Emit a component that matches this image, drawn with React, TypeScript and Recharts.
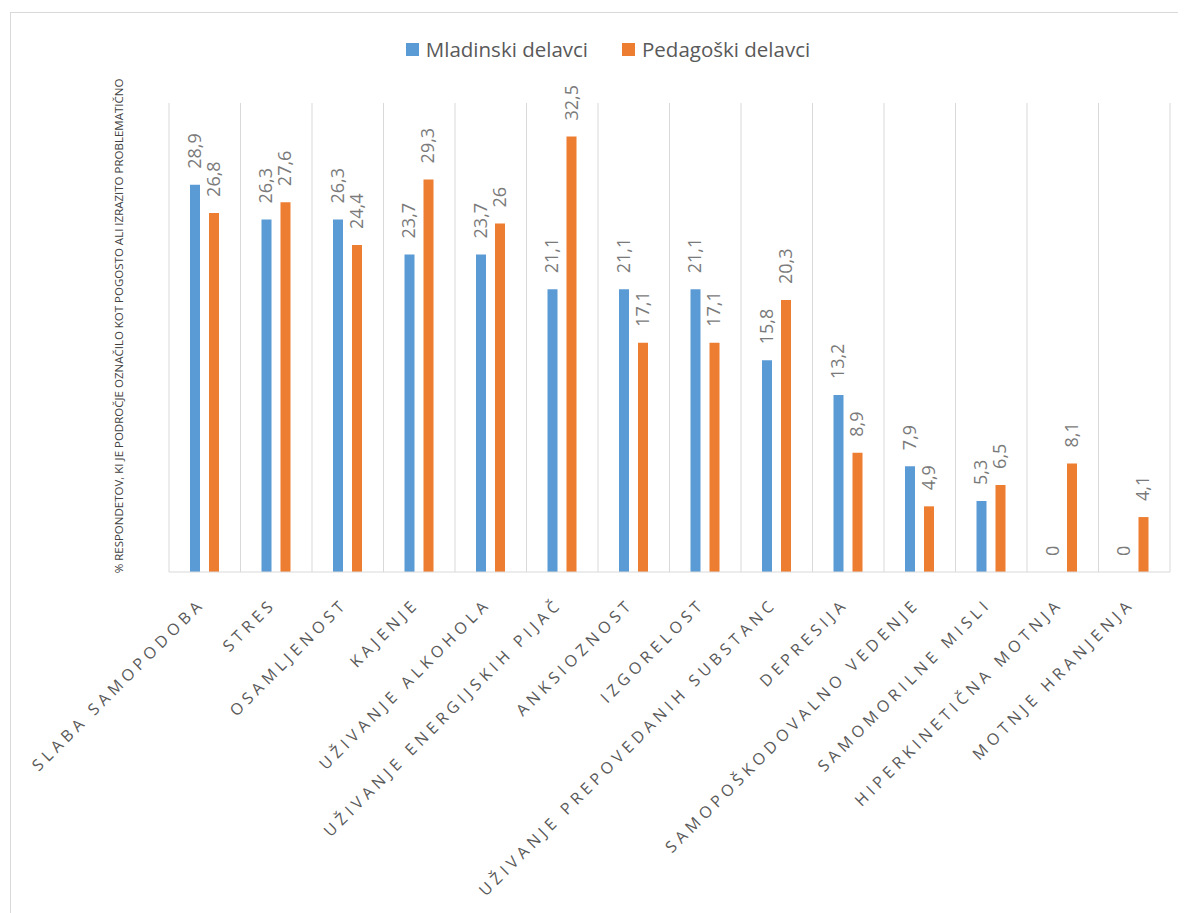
import React from 'react';
import { BarChart, Bar, XAxis, YAxis, CartesianGrid, Legend, LabelList } from 'recharts';

const categories = [
  'SLABA SAMOPODOBA',
  'STRES',
  'OSAMLJENOST',
  'KAJENJE',
  'UŽIVANJE ALKOHOLA',
  'UŽIVANJE ENERGIJSKIH PIJAČ',
  'ANKSIOZNOST',
  'IZGORELOST',
  'UŽIVANJE PREPOVEDANIH SUBSTANC',
  'DEPRESIJA',
  'SAMOPOŠKODOVALNO VEDENJE',
  'SAMOMORILNE MISLI',
  'HIPERKINETIČNA MOTNJA',
  'MOTNJE HRANJENJA',
];

const mladinski = [28.9, 26.3, 26.3, 23.7, 23.7, 21.1, 21.1, 21.1, 15.8, 13.2, 7.9, 5.3, 0, 0];
const pedagoski = [26.8, 27.6, 24.4, 29.3, 26, 32.5, 17.1, 17.1, 20.3, 8.9, 4.9, 6.5, 8.1, 4.1];

const seriesNames = ['Mladinski delavci', 'Pedagoški delavci'];
const yTitle = '% RESPONDETOV, KI JE PODROČJE OZNAČILO KOT POGOSTO ALI IZRAZITO PROBLEMATIČNO';

const BLUE = '#5B9BD5';
const ORANGE = '#ED7D31';
const FONT = '"Open Sans", sans-serif';

const data = categories.map((name, i) => ({
  name,
  mladinski: mladinski[i],
  pedagoski: pedagoski[i],
}));

const fmt = (v: number) => String(v).replace('.', ',');

const ValueLabel = (props: any) => {
  const { x, y, width, value } = props;
  const cx = Number(x) + Number(width) / 2 + 6;
  const ty = Number(y) - 16;
  return (
    <text
      x={cx}
      y={ty}
      transform={`rotate(-90, ${cx}, ${ty})`}
      textAnchor="start"
      fill="#7a7a7a"
      fontSize={18}
      fontFamily={FONT}
    >
      {fmt(Number(value))}
    </text>
  );
};

const CategoryTick = (props: any) => {
  const { x, y, payload } = props;
  const tx = x + 1;
  const ty = y + 25;
  return (
    <text
      x={tx}
      y={ty}
      transform={`rotate(-45, ${tx}, ${ty})`}
      textAnchor="end"
      fill="#595959"
      fontSize={16}
      letterSpacing={4.5}
      fontFamily={FONT}
    >
      {payload.value}
    </text>
  );
};

const renderLegend = () => (
  <div
    style={{
      display: 'flex',
      justifyContent: 'center',
      paddingLeft: 30,
      gap: 34,
      fontFamily: FONT,
      fontSize: 20.5,
      color: '#595959',
    }}
  >
    {seriesNames.map((n, i) => (
      <div key={n} style={{ display: 'flex', alignItems: 'center' }}>
        <span
          style={{
            display: 'inline-block',
            width: 13,
            height: 13,
            marginRight: 7,
            background: i === 0 ? BLUE : ORANGE,
          }}
        />
        {n}
      </div>
    ))}
  </div>
);

const gridX = ({ offset }: any) => {
  const pts: number[] = [];
  for (let i = 0; i <= categories.length; i++) {
    pts.push(offset.left + (offset.width * i) / categories.length);
  }
  return pts;
};

export default function App() {
  return (
    <div style={{ position: 'relative', width: 1178, height: 905, overflow: 'hidden' }}>
      <div
        style={{
          position: 'absolute',
          left: 2,
          top: 4,
          right: 0,
          bottom: 0,
          borderTop: '1px solid #d9d9d9',
          borderLeft: '1px solid #d9d9d9',
        }}
      />
      <BarChart
        width={1170}
        height={897}
        data={data}
        margin={{ top: 95, right: 8, bottom: 0, left: 101 }}
        barSize={10}
        barGap={9}
        style={{ position: 'absolute', left: 0, top: 0 }}
      >
        <CartesianGrid horizontal={false} stroke="#d9d9d9" verticalCoordinatesGenerator={gridX} />
        <XAxis
          dataKey="name"
          interval={0}
          height={333}
          tickLine={false}
          axisLine={{ stroke: '#d9d9d9' }}
          tick={<CategoryTick />}
        />
        <YAxis
          domain={[0, 35]}
          width={60}
          tick={false}
          tickLine={false}
          axisLine={false}
          label={{
            content: () => (
              <text
                x={110}
                y={318}
                transform="rotate(-90, 110, 318)"
                textAnchor="middle"
                dominantBaseline="central"
                fill="#404040"
                fontSize={11.5}
                fontFamily={FONT}
              >
                {yTitle}
              </text>
            ),
          }}
        />
        <Legend verticalAlign="middle" content={renderLegend} wrapperStyle={{ top: 27, left: 0, width: 1170 }} />
        <Bar dataKey="mladinski" name={seriesNames[0]} fill={BLUE} minPointSize={0.01} isAnimationActive={false}>
          <LabelList dataKey="mladinski" content={<ValueLabel />} />
        </Bar>
        <Bar dataKey="pedagoski" name={seriesNames[1]} fill={ORANGE} isAnimationActive={false}>
          <LabelList dataKey="pedagoski" content={<ValueLabel />} />
        </Bar>
      </BarChart>
    </div>
  );
}
